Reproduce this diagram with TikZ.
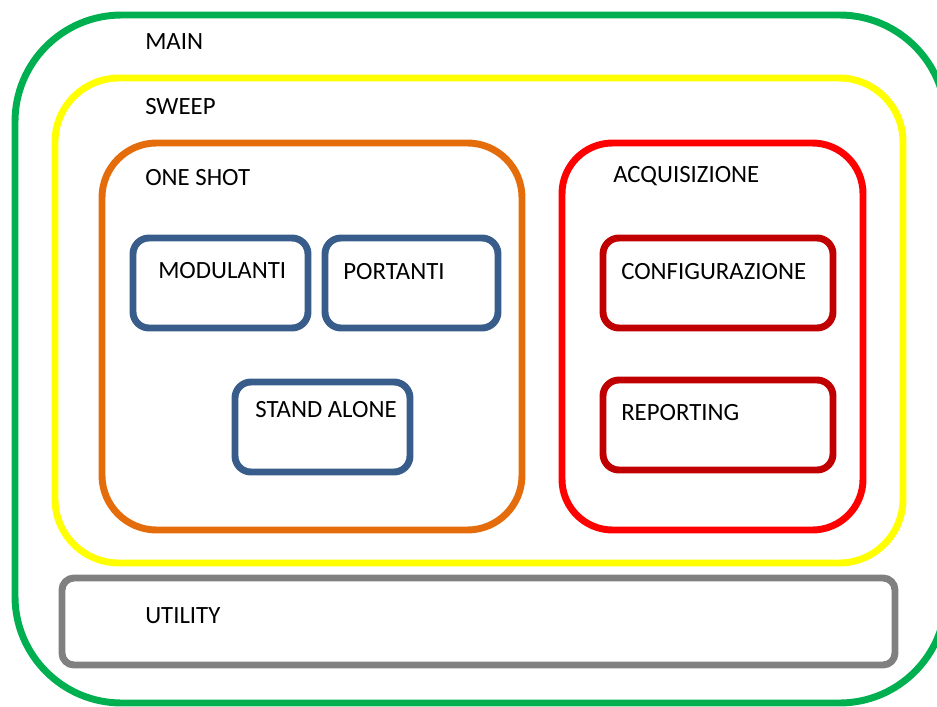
\documentclass[tikz,border=0pt]{standalone}
\usepackage{fontspec}
\setmainfont{Carlito}
\usetikzlibrary{positioning}
\definecolor{maingreen}{RGB}{0,176,80}
\definecolor{sweepyellow}{RGB}{255,255,0}
\definecolor{shotorange}{RGB}{228,108,10}
\definecolor{acqred}{RGB}{255,0,0}
\definecolor{subred}{RGB}{192,0,0}
\definecolor{subblue}{RGB}{56,93,138}
\definecolor{utilgrey}{RGB}{128,128,128}

\begin{document}
\begin{tikzpicture}[x=0.75pt, y=-0.75pt, font=\fontsize{18.6}{22}\selectfont,
  frame/.style={line width=5.2pt},
  lbl/.style={anchor=base west, inner sep=0pt}]
  \useasboundingbox (0,0) rectangle (937,706);
  \clip (0,0) rectangle (937,706);
  % outer levels
  \draw[frame, maingreen, rounded corners=80pt] (15,15) rectangle (946,703);
  \draw[frame, sweepyellow, rounded corners=48pt] (55,78) rectangle (903,563);
  \draw[frame, shotorange, rounded corners=41pt] (102,143) rectangle (522,530);
  \draw[frame, acqred, rounded corners=38pt] (562,143) rectangle (863,530);
  \draw[frame, utilgrey, rounded corners=9pt] (62,578) rectangle (895,665);
  % one shot blocks
  \draw[frame, subblue, rounded corners=12pt] (133,238) rectangle (308,328);
  \draw[frame, subblue, rounded corners=12pt] (325,238) rectangle (498,328);
  \draw[frame, subblue, rounded corners=12pt] (235,382) rectangle (410,472);
  % acquisizione blocks
  \draw[frame, subred, rounded corners=12pt] (603,238) rectangle (833,328);
  \draw[frame, subred, rounded corners=12pt] (603,380) rectangle (833,470);
  % labels
  \node[lbl] (main) at (145,50) {MAIN};
  \node[lbl] (sweep) at (145,115) {SWEEP};
  \node[lbl] (oneshot) at (145,185) {ONE SHOT};
  \node[lbl] (acq) at (613,182) {ACQUISIZIONE};
  \node[lbl] (modulanti) at (158,278) {MODULANTI};
  \node[lbl] (portanti) at (343,279) {PORTANTI};
  \node[lbl] (standalone) at (255,417) {STAND ALONE};
  \node[lbl] (config) at (621,279) {CONFIGURAZIONE};
  \node[lbl] (reporting) at (621,420) {REPORTING};
  \node[lbl] (utility) at (145,623) {UTILITY};
\end{tikzpicture}
\end{document}
